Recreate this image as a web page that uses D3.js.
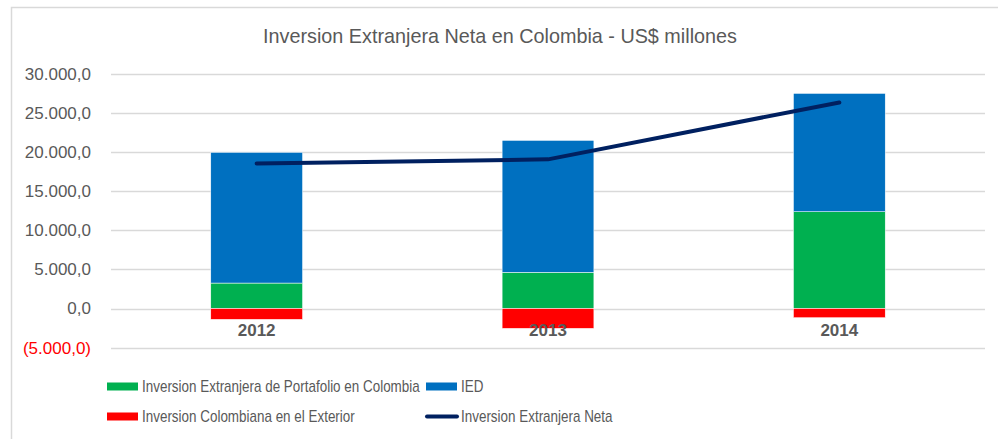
<!DOCTYPE html>
<html>
<head>
<meta charset="utf-8">
<script src="https://cdn.jsdelivr.net/npm/d3@7"></script>
<style>
html,body{margin:0;padding:0;background:#fff;}
svg{display:block;font-family:"Liberation Sans",Arial,sans-serif;}
</style>
</head>
<body>
<svg id="chart" width="998" height="439"></svg>
<script>
const categories = ["2012", "2013", "2014"];
const portafolio = [3255, 4620, 12360];
const ied = [16685, 16850, 15110];
const exterior = [-1380, -2530, -1170];
const neta = [18530, 19050, 26320];
const yTicks = [-5000, 0, 5000, 10000, 15000, 20000, 25000, 30000];
const title = "Inversion Extranjera Neta en Colombia - US$ millones";
const legendLabels = ["Inversion Extranjera de Portafolio en Colombia", "IED", "Inversion Colombiana en el Exterior", "Inversion Extranjera Neta"];

const colors = {green:"#00b050", blue:"#0070c0", red:"#ff0000", navy:"#002060"};
const svg = d3.select("#chart");

// outer border
svg.append("rect").attr("x",11.5).attr("y",7.5).attr("width",1000).attr("height",1000)
  .attr("fill","none").attr("stroke","#d9d9d9").attr("stroke-width",1.5);

const left = 111, right = 985;
const x = d3.scaleBand().domain(categories).range([left, right]).paddingInner(0.685).paddingOuter(0.3425);
const y = d3.scaleLinear().domain([-5000, 30000]).range([347.7, 73.6]);

// gridlines
svg.append("g").selectAll("line").data(yTicks).join("line")
  .attr("x1", left).attr("x2", right)
  .attr("y1", d=>Math.round(y(d))+0.5).attr("y2", d=>Math.round(y(d))+0.5)
  .attr("stroke","#d9d9d9").attr("stroke-width",1.3);

// y axis labels
const fmt = v => {
  const s = d3.format(",.1f")(Math.abs(v)).replace(/,/g,"#").replace(".",",").replace(/#/g,".");
  return v < 0 ? "(" + s + ")" : s;
};
svg.append("g").selectAll("text").data(yTicks).join("text")
  .attr("x", 91).attr("y", d=>y(d)).attr("dy","0.35em")
  .attr("text-anchor","end").attr("font-size",17)
  .attr("fill", d=> d<0 ? "#ff0000" : "#595959")
  .text(fmt);

// bars
const rows = categories.map((c,i)=>({c, p:portafolio[i], ied:ied[i], e:exterior[i]}));
const g = svg.append("g");
g.selectAll(".pf").data(rows).join("rect")
  .attr("x", d=>x(d.c)).attr("width", x.bandwidth())
  .attr("y", d=>y(d.p)).attr("height", d=>y(0)-y(d.p))
  .attr("fill", colors.green).attr("stroke","#fff").attr("stroke-width",0.5);
g.selectAll(".ied").data(rows).join("rect")
  .attr("x", d=>x(d.c)).attr("width", x.bandwidth())
  .attr("y", d=>y(d.p+d.ied)).attr("height", d=>y(d.p)-y(d.p+d.ied))
  .attr("fill", colors.blue).attr("stroke","#fff").attr("stroke-width",0.5);
g.selectAll(".ex").data(rows).join("rect")
  .attr("x", d=>x(d.c)).attr("width", x.bandwidth())
  .attr("y", d=>y(0)).attr("height", d=>y(d.e)-y(0))
  .attr("fill", colors.red).attr("stroke","#fff").attr("stroke-width",0.5);

// x labels
svg.append("g").selectAll("text").data(categories).join("text")
  .attr("x", d=>x(d)+x.bandwidth()/2).attr("y", 336)
  .attr("text-anchor","middle").attr("font-size",17).attr("font-weight","bold")
  .attr("fill","#595959").text(d=>d);

// line
const line = d3.line().x((d,i)=>x(categories[i])+x.bandwidth()/2).y(d=>y(d));
svg.append("path").datum(neta).attr("d", line)
  .attr("fill","none").attr("stroke", colors.navy).attr("stroke-width",4)
  .attr("stroke-linecap","round").attr("stroke-linejoin","round");

// title
svg.append("text").attr("x", 500).attr("y", 43).attr("text-anchor","middle")
  .attr("font-size",19.8).attr("fill","#595959").text(title);

// legend
const leg = [
  {t:legendLabels[0], c:colors.green, type:"bar", x:107, y:386.5},
  {t:legendLabels[1], c:colors.blue, type:"bar", x:426, y:386.5},
  {t:legendLabels[2], c:colors.red, type:"bar", x:107, y:416.5},
  {t:legendLabels[3], c:colors.navy, type:"line", x:426, y:416.5}
];
const lg = svg.append("g").selectAll("g").data(leg).join("g");
lg.filter(d=>d.type==="bar").append("rect")
  .attr("x", d=>d.x).attr("y", d=>d.y-4).attr("width",31).attr("height",8).attr("fill", d=>d.c);
lg.filter(d=>d.type==="line").append("line")
  .attr("x1", d=>d.x+1).attr("x2", d=>d.x+31).attr("y1", d=>d.y).attr("y2", d=>d.y)
  .attr("stroke", d=>d.c).attr("stroke-width",4).attr("stroke-linecap","round");
lg.append("text")
  .attr("transform", d=>`translate(${d.x+35},${d.y}) scale(0.84,1)`)
  .attr("dy","0.35em")
  .attr("font-size",16).attr("fill","#595959").text(d=>d.t);
</script>
</body>
</html>
